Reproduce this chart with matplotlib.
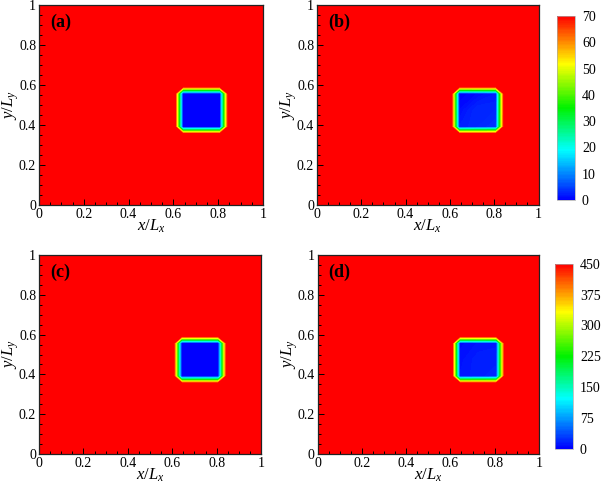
import numpy as np
import matplotlib
matplotlib.use("Agg")
import matplotlib.pyplot as plt
from matplotlib.colors import LinearSegmentedColormap
from matplotlib.ticker import MultipleLocator

plt.rcParams['font.family'] = ['Liberation Serif', 'DejaVu Serif']
plt.rcParams['mathtext.fontset'] = 'custom'
plt.rcParams['mathtext.rm'] = 'Liberation Serif'
plt.rcParams['mathtext.it'] = 'Liberation Serif:italic'

# grid node coordinates (normalised x/Lx, y/Ly)
x_nodes = [0.0, 0.58, 0.607, 0.642, 0.725, 0.808, 0.845, 0.87, 1.0]
y_nodes = [0.0, 0.33, 0.355, 0.39, 0.475, 0.558, 0.592, 0.62, 1.0]

# node values, rows = y (bottom to top)
field_a = [
    [70, 70, 70, 70, 70, 70, 70, 70, 70],
    [70, 70, 70, 70, 70, 70, 70, 70, 70],
    [70, 70, 70, 70, 70, 70, 70, 70, 70],
    [70, 70, 70,  0,  0,  0, 70, 70, 70],
    [70, 70, 70,  0,  0,  0, 70, 70, 70],
    [70, 70, 70,  0,  0,  0, 70, 70, 70],
    [70, 70, 70, 70, 70, 70, 70, 70, 70],
    [70, 70, 70, 70, 70, 70, 70, 70, 70],
    [70, 70, 70, 70, 70, 70, 70, 70, 70],
]
field_b = [
    [70, 70, 70, 70, 70, 70, 70, 70, 70],
    [70, 70, 70, 70, 70, 70, 70, 70, 70],
    [70, 70, 70, 70, 70, 70, 70, 70, 70],
    [70, 70, 70,  2,  3,  4, 70, 70, 70],
    [70, 70, 70,  1,  3,  3, 70, 70, 70],
    [70, 70, 70,  0,  1,  2, 70, 70, 70],
    [70, 70, 70, 70, 70, 70, 70, 70, 70],
    [70, 70, 70, 70, 70, 70, 70, 70, 70],
    [70, 70, 70, 70, 70, 70, 70, 70, 70],
]
field_c = [
    [450, 450, 450, 450, 450, 450, 450, 450, 450],
    [450, 450, 450, 450, 450, 450, 450, 450, 450],
    [450, 450, 450, 450, 450, 450, 450, 450, 450],
    [450, 450, 450,   0,   0,   0, 450, 450, 450],
    [450, 450, 450,   0,   0,   0, 450, 450, 450],
    [450, 450, 450,   0,   0,   0, 450, 450, 450],
    [450, 450, 450, 450, 450, 450, 450, 450, 450],
    [450, 450, 450, 450, 450, 450, 450, 450, 450],
    [450, 450, 450, 450, 450, 450, 450, 450, 450],
]
field_d = [
    [450, 450, 450, 450, 450, 450, 450, 450, 450],
    [450, 450, 450, 450, 450, 450, 450, 450, 450],
    [450, 450, 450, 450, 450, 450, 450, 450, 450],
    [450, 450, 450,  10,  15,  18, 450, 450, 450],
    [450, 450, 450,   8,  15,  15, 450, 450, 450],
    [450, 450, 450,   5,  10,  12, 450, 450, 450],
    [450, 450, 450, 450, 450, 450, 450, 450, 450],
    [450, 450, 450, 450, 450, 450, 450, 450, 450],
    [450, 450, 450, 450, 450, 450, 450, 450, 450],
]

vmax_top = 70
vmax_bottom = 450
cbar_ticks_top = [0, 10, 20, 30, 40, 50, 60, 70]
cbar_ticks_bottom = [0, 75, 150, 225, 300, 375, 450]
panel_labels = ['(a)', '(b)', '(c)', '(d)']
axis_ticks = [0, 0.2, 0.4, 0.6, 0.8, 1]
axis_ticklabels = ['0', '0.2', '0.4', '0.6', '0.8', '1']

cmap = LinearSegmentedColormap.from_list(
    'tec', [(0.0, (0.0, 0.0, 1.0)), (0.27, (0.0, 1.0, 1.0)),
            (0.5, (0.0, 0.95, 0.0)), (0.74, (1.0, 1.0, 0.0)),
            (1.0, (1.0, 0.0, 0.0))])

W, H = 601, 483
fig = plt.figure(figsize=(W / 100, H / 100), dpi=100)

def rect(l, r, t, b):
    return [l / W, 1 - b / H, (r - l) / W, (b - t) / H]

axes_rects = [rect(39, 263, 5, 205), rect(317, 538.5, 5, 205),
              rect(39, 261, 255, 454), rect(317.5, 539, 255, 454)]
fields = [field_a, field_b, field_c, field_d]
vmaxes = [vmax_top, vmax_top, vmax_bottom, vmax_bottom]

X, Y = np.meshgrid(x_nodes, y_nodes)
cfs = []
for i in range(4):
    ax = fig.add_axes(axes_rects[i])
    Z = np.array(fields[i], dtype=float)
    levels = np.linspace(0, vmaxes[i], 141)
    cf = ax.contourf(X, Y, Z, levels=levels, cmap=cmap, vmin=0, vmax=vmaxes[i])
    cfs.append(cf)
    ax.set_xlim(0, 1)
    ax.set_ylim(0, 1)
    ax.set_xticks(axis_ticks)
    ax.set_xticklabels(axis_ticklabels)
    ax.set_yticks(axis_ticks)
    ax.set_yticklabels(axis_ticklabels)
    ax.xaxis.set_minor_locator(MultipleLocator(0.05))
    ax.yaxis.set_minor_locator(MultipleLocator(0.05))
    ax.tick_params(which='both', direction='in', top=False, right=False,
                   labelsize=10, width=0.7, pad=2)
    ax.tick_params(which='major', length=4)
    ax.tick_params(which='minor', length=2)
    for s in ax.spines.values():
        s.set_linewidth(0.9)
        s.set_color('#222222')
    ax.set_xlabel(r'$x/L_x$', fontsize=12, labelpad=-2.5)
    ax.set_ylabel(r'$y/L_y$', fontsize=12, labelpad=-1.5)
    ax.text(0.05, 0.955, panel_labels[i], transform=ax.transAxes,
            fontsize=13, fontweight='bold', va='top', ha='left')

cbar_rects = [rect(557, 575, 16, 200), rect(555, 573, 264, 448.5)]
cbar_src = [cfs[1], cfs[3]]
cbar_ticks = [cbar_ticks_top, cbar_ticks_bottom]
for j in range(2):
    cax = fig.add_axes(cbar_rects[j])
    cb = fig.colorbar(cbar_src[j], cax=cax, ticks=cbar_ticks[j])
    cb.outline.set_linewidth(0.5)
    cb.outline.set_edgecolor('#aaaaaa')
    cax.tick_params(length=0, labelsize=10, pad=5)

fig.savefig('out.png', dpi=100)
